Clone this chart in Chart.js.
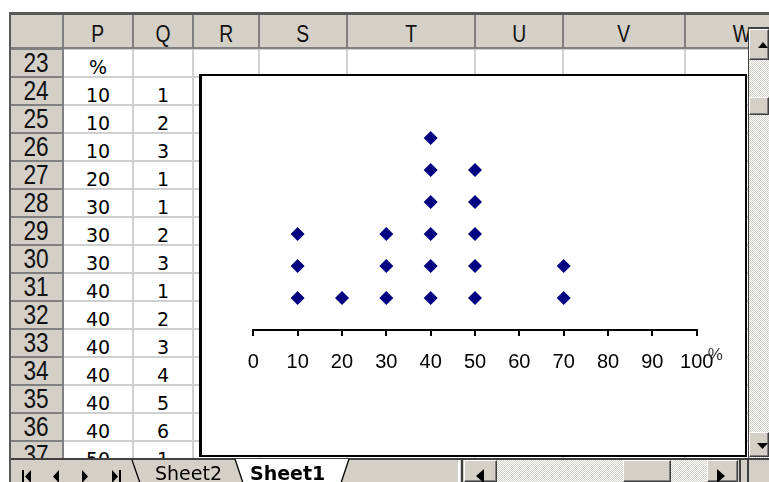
<!DOCTYPE html>
<html>
<head>
<meta charset="utf-8">
<script src="https://cdn.jsdelivr.net/npm/chart.js@4/dist/chart.umd.min.js"></script>
<style>
  html, body { margin: 0; padding: 0; background: #fff; width: 769px; height: 482px; overflow: hidden; }
  body { position: relative; }
  .a { position: absolute; box-sizing: border-box; }
  .hdr { background: #d4d0c8; }
  .colTxt { font-family: 'Liberation Sans', Arial, sans-serif; font-size: 23px; color: #111; text-align: center; line-height: 34px; padding-top: 2px; white-space: nowrap; }
  .colTxt span, .rowTxt span { display: inline-block; transform: scaleX(0.84); }
  .rowTxt { font-family: 'Liberation Sans', Arial, sans-serif; font-size: 27px; color: #111; text-align: center; line-height: 28px; }
  .cellTxt { font-family: 'DejaVu Sans', Verdana, sans-serif; font-size: 19px; color: #000; text-align: center; line-height: 28px; padding-top: 4px; }
  .checker { background: repeating-conic-gradient(#ffffff 0 25%, #d4d0c8 0 50%) 0 0 / 2px 2px; }
  .btn { background: #d4d0c8; border-top: 1px solid #ffffff; border-left: 1px solid #ffffff; border-right: 1px solid #404040; border-bottom: 1px solid #404040; box-shadow: inset -1px -1px 0 #808080; }
  #chartBox { left: 199px; top: 74px; width: 548px; height: 383px; border: 2px solid #000; border-left-width: 3px; background: #fff; z-index: 5; }
  #chartBox canvas { display: block; }
  #colClip { position: absolute; left: 0; top: 0; width: 748px; height: 49px; overflow: hidden; }
</style>
</head>
<body>
<div id="sheet"></div>
<div id="chartBox" class="a"><canvas id="dotPlot" width="543" height="379"></canvas></div>
<div id="chrome"></div>

<script>
// Worksheet data: percentage in column P, running count in column Q
const percentValues = [10, 10, 10, 20, 30, 30, 30, 40, 40, 40, 40, 40, 40, 50, 50, 50, 50, 50, 70, 70];
const countValues   = [1, 2, 3, 1, 1, 2, 3, 1, 2, 3, 4, 5, 6, 1, 2, 3, 4, 5, 1, 2];
const percentHeader = '%';
const xTickValues   = [0, 10, 20, 30, 40, 50, 60, 70, 80, 90, 100];
const axisUnit      = '%';
const columnLetters = ['P', 'Q', 'R', 'S', 'T', 'U', 'V', 'W'];
const firstRow = 23, lastRow = 37;
const sheetTabs = ['Sheet2', 'Sheet1'];

// ---- worksheet grid ----
const columnEdges = [63, 133, 193, 259, 347, 475, 563, 685, 799];
const headerTop = 15, headerBottom = 49, rowHeight = 28, gridRight = 769, gridBottom = 458;
const sheet = document.getElementById('sheet');

function el(parent, cls, l, t, w, h, css, text, wrap) {
  const d = document.createElement('div');
  d.className = 'a ' + (cls || '');
  d.style.left = l + 'px'; d.style.top = t + 'px';
  d.style.width = w + 'px'; d.style.height = h + 'px';
  if (css) d.style.cssText += css;
  if (text !== undefined) {
    if (wrap) { const s = document.createElement('span'); s.textContent = text; d.appendChild(s); }
    else d.textContent = text;
  }
  parent.appendChild(d);
  return d;
}

// header strips
el(sheet, 'hdr', 11, headerTop, gridRight - 11, headerBottom - headerTop);
el(sheet, 'hdr', 11, headerBottom, 52, gridBottom - headerBottom);

// body horizontal gridlines and row header separators
for (let r = firstRow; r <= lastRow + 1; r++) {
  const y = headerBottom + (r - firstRow) * rowHeight;
  el(sheet, '', 63, y - 1, gridRight - 63, 2, 'background:#d0d0d0');
  el(sheet, '', 11, y - 1, 52, 2, 'background:#808080');
}
// vertical lines
for (let i = 0; i < columnEdges.length; i++) {
  const x = columnEdges[i];
  el(sheet, '', x - 1, headerTop, 2, headerBottom - headerTop, 'background:#808080');
  if (i > 0) el(sheet, '', x - 1, headerBottom, 2, gridBottom - headerBottom, 'background:#d0d0d0');
}
el(sheet, '', 62, headerBottom, 2, gridBottom - headerBottom, 'background:#808080');
el(sheet, '', 11, headerBottom - 2, gridRight - 11, 2, 'background:#808080');
// outer frame
el(sheet, '', 9, 12, gridRight - 9, 3, 'background:#5a5a5a');
el(sheet, '', 9, 12, 2, gridBottom - 12, 'background:#5a5a5a');

// column letters (clipped by the vertical scroll bar)
const colClip = document.createElement('div');
colClip.id = 'colClip';
sheet.appendChild(colClip);
columnLetters.forEach((c, i) => {
  el(colClip, 'colTxt', columnEdges[i], headerTop, columnEdges[i + 1] - columnEdges[i], headerBottom - headerTop, '', c, true);
});
// row numbers and cell values
for (let r = firstRow; r <= lastRow; r++) {
  const y = headerBottom + (r - firstRow) * rowHeight;
  el(sheet, 'rowTxt', 11, y, 51, rowHeight, '', String(r), true);
  const k = r - firstRow - 1;
  const pText = k < 0 ? percentHeader : String(percentValues[k]);
  const qText = k < 0 ? '' : String(countValues[k]);
  el(sheet, 'cellTxt', columnEdges[0], y, columnEdges[1] - columnEdges[0], rowHeight, '', pText);
  el(sheet, 'cellTxt', columnEdges[1], y, columnEdges[2] - columnEdges[1], rowHeight, '', qText);
}

// ---- window chrome: scroll bars and sheet tabs ----
const chrome = document.getElementById('chrome');
chrome.style.cssText = 'position:absolute;left:0;top:0;z-index:10';
// vertical scroll bar
el(chrome, 'checker', 748, 27, 21, 431, 'border-left:1px solid #404040');
el(chrome, '', 748, 27, 21, 2, 'background:#404040');
el(chrome, 'btn', 749, 29, 20, 31);
el(chrome, 'btn', 749, 97, 20, 18);
el(chrome, 'btn', 749, 432, 20, 25);
// horizontal area
el(chrome, 'hdr', 0, gridBottom, 769, 24, 'border-top:2px solid #404040');
el(chrome, '', 0, gridBottom, 9, 24, 'background:#fff');
el(chrome, '', 9, gridBottom, 2, 24, 'background:#5a5a5a');
el(chrome, '', 458, gridBottom + 2, 2, 22, 'background:#ffffff');
el(chrome, '', 461, gridBottom + 2, 2, 22, 'background:#404040');
el(chrome, 'checker', 497, gridBottom + 2, 211, 22);
el(chrome, 'btn', 464, gridBottom + 2, 33, 22);
el(chrome, 'btn', 623, gridBottom + 2, 48, 22);
el(chrome, 'btn', 707, gridBottom + 2, 31, 22);
el(chrome, '', 739, gridBottom + 2, 2, 22, 'background:#404040');
el(chrome, '', 747, gridBottom + 2, 2, 22, 'background:#404040');

const svgNS = 'http://www.w3.org/2000/svg';
const svg = document.createElementNS(svgNS, 'svg');
svg.setAttribute('width', '769'); svg.setAttribute('height', '482');
svg.style.cssText = 'position:absolute;left:0;top:0;z-index:11;overflow:visible';
function shape(tag, attrs, text) {
  const s = document.createElementNS(svgNS, tag);
  for (const k in attrs) s.setAttribute(k, attrs[k]);
  if (text !== undefined) s.textContent = text;
  svg.appendChild(s);
  return s;
}
// tab navigation arrows
shape('rect', { x: 22, y: 470, width: 2, height: 13, fill: '#000' });
shape('polygon', { points: '25,476.5 31,470 31,483', fill: '#000' });
shape('polygon', { points: '53,476.5 59,470 59,483', fill: '#000' });
shape('polygon', { points: '88,476.5 82,470 82,483', fill: '#000' });
shape('polygon', { points: '118,476.5 112,470 112,483', fill: '#000' });
shape('rect', { x: 119, y: 470, width: 2, height: 13, fill: '#000' });
// sheet tabs
shape('line', { x1: 132, y1: 460, x2: 140, y2: 483, stroke: '#000', 'stroke-width': 1.3 });
shape('text', { x: 155, y: 480, 'font-family': 'DejaVu Sans, Verdana, sans-serif', 'font-size': 19, fill: '#000' }, sheetTabs[0]);
shape('polygon', { points: '235,459 349,459 341,483 243,483', fill: '#fff' });
shape('line', { x1: 235, y1: 459, x2: 243, y2: 483, stroke: '#000', 'stroke-width': 1.3 });
shape('line', { x1: 349, y1: 459, x2: 341, y2: 483, stroke: '#000', 'stroke-width': 1.3 });
shape('text', { x: 250, y: 480, 'font-family': 'DejaVu Sans, Verdana, sans-serif', 'font-size': 19, 'font-weight': 'bold', fill: '#000' }, sheetTabs[1]);
// scroll arrows
shape('polygon', { points: '476,476 484,469 484,483', fill: '#000' });
shape('polygon', { points: '725,476 717,469 717,483', fill: '#000' });
shape('polygon', { points: '758,48 763,42 768,48', fill: '#000' });
shape('polygon', { points: '757,443 768,443 762.5,449', fill: '#000' });
chrome.appendChild(svg);

// ---- dot plot ----
const unitLabel = {
  id: 'unitLabel',
  afterDraw(chart) {
    const s = chart.scales.x;
    const c = chart.ctx;
    c.save();
    c.font = '17px "Liberation Sans", Arial, sans-serif';
    c.fillStyle = '#333';
    c.textAlign = 'left';
    c.textBaseline = 'top';
    c.fillText(axisUnit, s.right + 11, s.top + 17);
    c.restore();
  }
};

new Chart(document.getElementById('dotPlot'), {
  type: 'scatter',
  data: {
    datasets: [{
      data: percentValues.map((x, i) => ({ x: x, y: countValues[i] })),
      pointStyle: 'rectRot',
      radius: 7,
      backgroundColor: '#000080',
      borderColor: '#000080',
      borderWidth: 0
    }]
  },
  options: {
    responsive: false,
    animation: false,
    events: [],
    layout: { padding: { left: 51.3, right: 48.3, top: 30, bottom: 0 } },
    plugins: { legend: { display: false }, tooltip: { enabled: false } },
    scales: {
      x: {
        type: 'linear',
        min: 0,
        max: 100,
        afterBuildTicks: s => { s.ticks = xTickValues.map(v => ({ value: v })); },
        afterFit: s => { s.height = 125; },
        border: { display: true, color: '#000', width: 2 },
        grid: { drawOnChartArea: false, drawTicks: true, tickLength: 6, color: '#000', lineWidth: 2 },
        ticks: {
          font: { family: '"Liberation Sans", Arial, sans-serif', size: 20 },
          color: '#000',
          padding: 14,
          maxRotation: 0,
          autoSkip: false
        }
      },
      y: { display: false, min: 0, max: 7 }
    }
  },
  plugins: [unitLabel]
});
</script>
</body>
</html>
